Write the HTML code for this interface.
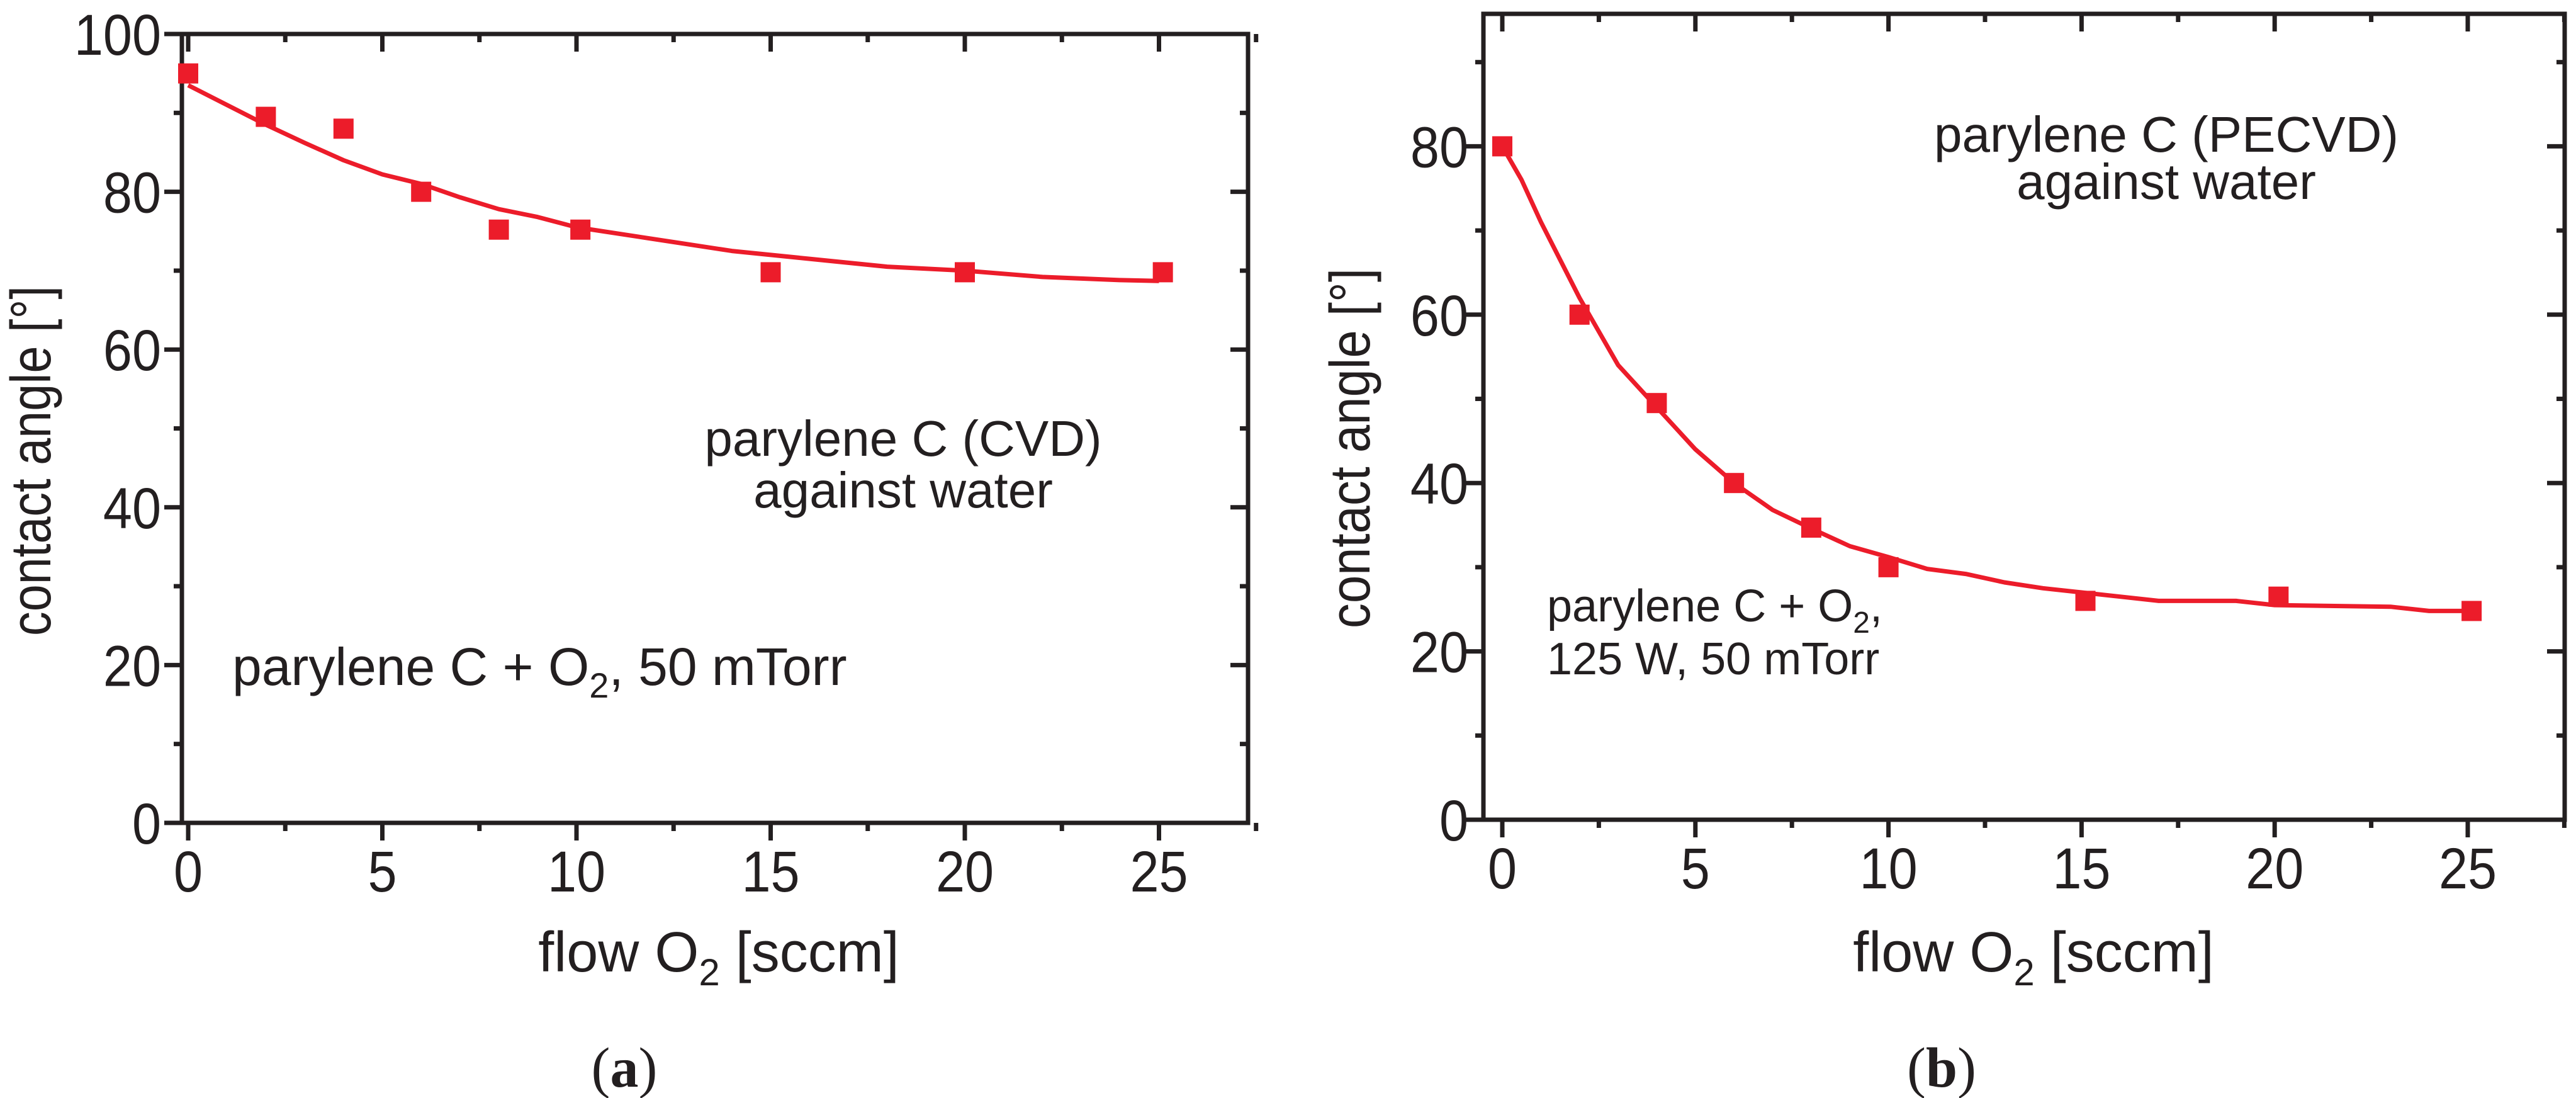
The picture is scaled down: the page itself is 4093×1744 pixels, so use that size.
<!DOCTYPE html>
<html><head><meta charset="utf-8"><style>
html,body{margin:0;padding:0;background:#fff;}
svg{display:block;}
text{font-family:"Liberation Sans",Arial,sans-serif;fill:#231f20;}
</style></head><body>
<svg id="chart" width="4093" height="1744" viewBox="0 0 4093 1744" xmlns="http://www.w3.org/2000/svg">
<g id="pa"></g>
<g id="pb"></g>
</svg>
<script>
// Panel a data
const aPointX = [0, 2, 4, 6, 8, 10.1, 15, 20, 25.1];
const aPointY = [95, 89.5, 88, 80, 75.2, 75.2, 69.8, 69.8, 69.8];
const aFitX = [0, 1, 2, 3, 4, 5, 6, 7, 8, 9, 10, 12, 14, 16, 18, 20, 22, 24, 25];
const aFitY = [93.5, 91, 88.5, 86.2, 84, 82.2, 81, 79.3, 77.8, 76.8, 75.5, 74, 72.5, 71.5, 70.5, 70, 69.2, 68.8, 68.7];
const aYTicks = [0, 20, 40, 60, 80, 100];
// Panel b data
const bPointX = [0, 2, 4, 6, 8, 10, 15.1, 20.1, 25.1];
const bPointY = [80, 60, 49.5, 40, 34.7, 30, 26, 26.5, 24.8];
const bFitX = [0, 0.5, 1, 2, 3, 4, 5, 6, 7, 8, 9, 10, 11, 12, 13, 14, 15, 16, 17, 19, 20, 23, 24, 25];
const bFitY = [80, 76, 71, 62, 54, 49, 44, 40, 36.8, 34.6, 32.5, 31.2, 29.8, 29.2, 28.2, 27.5, 27, 26.5, 26, 26, 25.5, 25.3, 24.8, 24.8];
const bYTicks = [0, 20, 40, 60, 80];
const xTicks = [0, 5, 10, 15, 20, 25];

const NS = "http://www.w3.org/2000/svg";
const RED = "#ec1c2a";
function mk(parent, tag, attrs, txt){
  const e = document.createElementNS(NS, tag);
  for (const k in attrs) e.setAttribute(k, attrs[k]);
  if (txt !== undefined) e.textContent = txt;
  parent.appendChild(e);
  return e;
}

function panel(g, cfg){
  const X = v => cfg.x0 + v * cfg.xs;
  const Y = v => cfg.y0 - v * cfg.ys;
  const L = cfg.left, R = cfg.right, T = cfg.top, B = cfg.y0;
  const fr = mk(g, "rect", {x:L, y:T, width:R-L, height:B-T, fill:"none", stroke:"#231f20", "stroke-width":7});
  
  
  for (let v = 0; v <= 27.5; v += 2.5){
    const major = Math.abs(v % 5) < 1e-6;
    const len = major ? 28 : 13;
    const t = mk(g, "line", {x1:X(v), x2:X(v), y1:B, y2:B+len, stroke:"#231f20", "stroke-width":7});
    
    
    const t2 = mk(g, "line", {x1:X(v), x2:X(v), y1:T, y2:T+len, stroke:"#231f20", "stroke-width":7});
    
    
  }
  xTicks.forEach(v => {
    const lb = mk(g, "text", {x:0, y:0, "font-size":92, "text-anchor":"middle", transform:"translate(" + X(v) + "," + cfg.xLabelY + ") scale(0.9,1)"}, String(v));
    
    
  });
  for (let v = 0; v <= cfg.ymax + 0.01; v += 10){
    const major = v % 20 === 0;
    const len = major ? 28 : 13;
    const t = mk(g, "line", {x1:L-len, x2:L, y1:Y(v), y2:Y(v), stroke:"#231f20", "stroke-width":7});
    
    
    const t2 = mk(g, "line", {x1:R-len, x2:R, y1:Y(v), y2:Y(v), stroke:"#231f20", "stroke-width":7});
    
    
  }
  cfg.yTicks.forEach(v => {
    const lb = mk(g, "text", {x:0, y:0, "font-size":92, "text-anchor":"end", transform:"translate(" + cfg.yLabelX + "," + (Y(v)+33) + ") scale(0.9,1)"}, String(v));
    
    
  });
  const d = cfg.fitX.map((v,i) => (i ? "L" : "M") + X(v).toFixed(1) + " " + Y(cfg.fitY[i]).toFixed(1)).join(" ");
  const ln = mk(g, "path", {d:d, fill:"none", stroke:RED, "stroke-width":7, "stroke-linejoin":"round"});
  
  
  cfg.px.forEach((v,i) => {
    const p = mk(g, "rect", {x:X(v)-16, y:Y(cfg.py[i])-16, width:32, height:32, fill:RED});
    
    
  });
  return {X, Y};
}

const pa = document.getElementById("pa");
panel(pa, {x0:299, xs:61.7, y0:1307, ys:12.53, left:289, right:1983, top:54, ymax:100,
  yTicks:aYTicks, fitX:aFitX, fitY:aFitY, px:aPointX, py:aPointY, xLabelY:1416, yLabelX:256});
const pb = document.getElementById("pb");
panel(pb, {x0:2387, xs:61.36, y0:1302, ys:13.37, left:2357, right:4075, top:22, ymax:95.7,
  yTicks:bYTicks, fitX:bFitX, fitY:bFitY, px:bPointX, py:bPointY, xLabelY:1411, yLabelX:2333});
</script>
<svg style="position:absolute;left:0;top:0" width="4093" height="1744" viewBox="0 0 4093 1744" xmlns="http://www.w3.org/2000/svg">
<text x="1142" y="1543" font-size="90" text-anchor="middle">flow O<tspan font-size="60" dy="22">2</tspan><tspan dy="-22"> [sccm]</tspan></text>
<text transform="translate(80,732) rotate(-90)" font-size="90" text-anchor="middle" textLength="556" lengthAdjust="spacingAndGlyphs">contact angle [°]</text>
<text x="1435" y="724" font-size="80" text-anchor="middle">parylene C (CVD)</text>
<text x="1435" y="806" font-size="80" text-anchor="middle">against water</text>
<text x="369" y="1088" font-size="84">parylene C + O<tspan font-size="56" dy="20">2</tspan><tspan dy="-20">, 50 mTorr</tspan></text>
<text x="992" y="1726" font-size="90" text-anchor="middle" style="font-family:'Liberation Serif',serif">(<tspan font-weight="bold">a</tspan>)</text>
<text x="3231" y="1543" font-size="90" text-anchor="middle">flow O<tspan font-size="60" dy="22">2</tspan><tspan dy="-22"> [sccm]</tspan></text>
<text transform="translate(2176,712) rotate(-90)" font-size="90" text-anchor="middle" textLength="572" lengthAdjust="spacingAndGlyphs">contact angle [°]</text>
<text x="3442" y="241" font-size="80" text-anchor="middle">parylene C (PECVD)</text>
<text x="3442" y="316" font-size="80" text-anchor="middle">against water</text>
<text x="2458" y="987" font-size="72">parylene C + O<tspan font-size="48" dy="18">2</tspan><tspan dy="-18">,</tspan></text>
<text x="2458" y="1071" font-size="72">125 W, 50 mTorr</text>
<text x="3085" y="1726" font-size="90" text-anchor="middle" style="font-family:'Liberation Serif',serif">(<tspan font-weight="bold">b</tspan>)</text>
</svg>
</body></html>
